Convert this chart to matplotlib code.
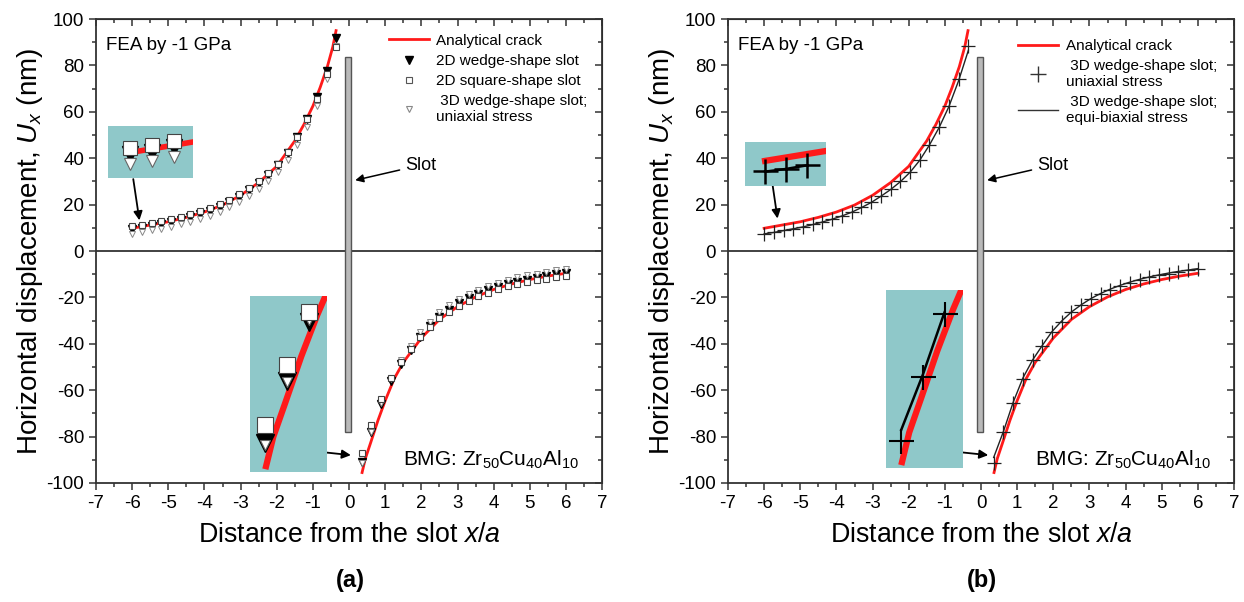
import matplotlib
matplotlib.use("Agg")
import matplotlib.pyplot as plt
from matplotlib.lines import Line2D
from matplotlib.patches import Rectangle
from matplotlib.ticker import MultipleLocator

plt.rcParams['font.family'] = ['Liberation Sans', 'DejaVu Sans']
plt.rcParams['mathtext.fontset'] = 'custom'
plt.rcParams['mathtext.rm'] = 'Liberation Sans'
plt.rcParams['mathtext.it'] = 'Liberation Sans:italic'
plt.rcParams['mathtext.bf'] = 'Liberation Sans:bold'
plt.rcParams['axes.unicode_minus'] = False

# ---- data ----
# analytical crack solution
xAnaNeg = [-6.0, -5.5, -5.0, -4.5, -4.0, -3.5, -3.0, -2.5, -2.0, -1.5, -1.25, -1.0, -0.8, -0.6, -0.45, -0.36]
uAnaNeg = [9.8, 11.2, 12.6, 14.5, 16.8, 19.8, 24.0, 29.5, 36.5, 47.5, 54.5, 62.5, 70.5, 79.5, 88.0, 95.0]
xAnaPos = [0.36, 0.45, 0.6, 0.8, 1.0, 1.25, 1.5, 2.0, 2.5, 3.0, 3.5, 4.0, 4.5, 5.0, 5.5, 6.0]
uAnaPos = [-95.5, -89.5, -82.5, -73.0, -64.5, -55.0, -48.0, -37.5, -29.5, -24.0, -19.8, -16.6, -14.2, -12.3, -10.8, -9.6]

# FEA nodes
xNeg = [-6.00, -5.73, -5.46, -5.19, -4.92, -4.65, -4.39, -4.12, -3.85, -3.58, -3.31,
        -3.04, -2.77, -2.50, -2.23, -1.96, -1.70, -1.43, -1.16, -0.89, -0.62, -0.35]
xPos = [0.35, 0.62, 0.89, 1.16, 1.43, 1.70, 1.96, 2.23, 2.50, 2.77, 3.04,
        3.31, 3.58, 3.85, 4.12, 4.39, 4.65, 4.92, 5.19, 5.46, 5.73, 6.00]

wedge2dNeg = [9.4, 10.0, 10.9, 11.7, 12.5, 13.5, 14.6, 15.8, 17.2, 18.9, 21.0,
              23.3, 26.1, 29.1, 32.6, 36.9, 42.3, 49.1, 57.0, 66.2, 77.8, 91.8]
square2dNeg = [10.7, 11.3, 12.2, 13.0, 13.8, 14.8, 15.9, 17.1, 18.5, 20.2, 22.2,
               24.5, 27.2, 30.1, 33.5, 37.6, 42.8, 49.3, 56.8, 65.5, 76.5, 88.0]
wedge3dNeg = [7.5, 8.1, 8.9, 9.7, 10.5, 11.5, 12.6, 13.8, 15.2, 16.8, 18.8,
              21.0, 23.7, 26.6, 30.0, 34.1, 39.2, 45.8, 53.5, 62.6, 74.0, 88.5]
biaxNeg = [7.4, 8.0, 8.8, 9.6, 10.4, 11.4, 12.5, 13.7, 15.1, 16.7, 18.7,
           20.9, 23.6, 26.5, 29.9, 34.0, 39.0, 45.6, 53.2, 62.2, 73.4, 86.5]

wedge2dPos = [-90.8, -78.0, -66.0, -56.0, -48.7, -42.7, -36.9, -32.3, -28.4, -25.4, -22.6,
              -20.4, -18.4, -16.8, -15.4, -14.2, -13.2, -12.3, -11.5, -10.8, -10.1, -9.5]
square2dPos = [-87.0, -74.8, -63.9, -54.8, -48.0, -42.4, -37.0, -32.8, -29.0, -26.2, -23.5,
               -21.4, -19.5, -17.9, -16.5, -15.3, -14.3, -13.4, -12.6, -11.9, -11.2, -10.6]
wedge3dPos = [-91.2, -78.2, -65.6, -55.0, -47.2, -40.8, -35.0, -30.4, -26.5, -23.4, -20.7,
              -18.5, -16.6, -15.0, -13.6, -12.4, -11.4, -10.5, -9.7, -9.0, -8.4, -7.8]
biaxPos = [-89.0, -77.8, -65.2, -54.7, -46.9, -40.6, -34.8, -30.2, -26.3, -23.2, -20.5,
           -18.3, -16.4, -14.8, -13.4, -12.2, -11.2, -10.3, -9.5, -8.8, -8.2, -7.6]

slotX = -0.12
slotW = 0.17
slotBottom = -78
slotTop = 83.5

RED = '#ff1a1a'
TEAL = '#8fc8c9'
DARK = '#333333'


def styleAxes(ax):
    ax.set_xlim(-7, 7)
    ax.set_ylim(-100, 100)
    ax.xaxis.set_major_locator(MultipleLocator(1))
    ax.xaxis.set_minor_locator(MultipleLocator(0.5))
    ax.yaxis.set_major_locator(MultipleLocator(20))
    ax.yaxis.set_minor_locator(MultipleLocator(10))
    ax.tick_params(which='both', direction='out', color=DARK, width=1.1, labelsize=13.5)
    ax.tick_params(which='major', length=5)
    ax.tick_params(which='minor', length=3)
    for s in ax.spines.values():
        s.set_color(DARK)
        s.set_linewidth(1.3)
    # top/right ticks point inward
    top = ax.secondary_xaxis('top')
    top.xaxis.set_major_locator(MultipleLocator(1))
    top.xaxis.set_minor_locator(MultipleLocator(0.5))
    top.tick_params(which='both', direction='in', color=DARK, width=1.1, labeltop=False)
    top.tick_params(which='major', length=5)
    top.tick_params(which='minor', length=3)
    right = ax.secondary_yaxis('right')
    right.yaxis.set_major_locator(MultipleLocator(20))
    right.yaxis.set_minor_locator(MultipleLocator(10))
    right.tick_params(which='both', direction='in', color=DARK, width=1.1, labelright=False)
    right.tick_params(which='major', length=5)
    right.tick_params(which='minor', length=3)
    ax.axhline(0, color=DARK, lw=1.3, zorder=1)
    ax.add_patch(Rectangle((slotX, slotBottom), slotW, slotTop - slotBottom,
                           facecolor='#b9b9b9', edgecolor='#555555', lw=1.0, zorder=2))
    ax.set_xlabel('Distance from the slot $\\it{x/a}$', fontsize=19.3, labelpad=7)
    ax.set_ylabel('Horizontal displacement, $\\it{U}_{x}$ (nm)', fontsize=20, labelpad=1)
    ax.text(-6.72, 88.5, 'FEA by -1 GPa', fontsize=13.5, va='center', ha='left')
    ax.text(1.5, -90, 'BMG: Zr$_{50}$Cu$_{40}$Al$_{10}$', fontsize=15, va='center', ha='left')
    ax.annotate('Slot', xy=(0.17, 30.5), xytext=(1.55, 37), fontsize=13, va='center',
                arrowprops=dict(arrowstyle='-|>', color='black', lw=1.1,
                                mutation_scale=12, shrinkA=2, shrinkB=0))


def insetAxes(rect):
    ins = fig.add_axes(rect)
    ins.set_facecolor(TEAL)
    ins.set_xticks([])
    ins.set_yticks([])
    for s in ins.spines.values():
        s.set_visible(False)
    return ins


def arrow(ax, start, end):
    ax.annotate('', xy=end, xytext=start,
                arrowprops=dict(arrowstyle='-|>', color='black', lw=1.3,
                                mutation_scale=13, shrinkA=0, shrinkB=0))


fig = plt.figure(figsize=(12.44, 6.02), dpi=100)
axA = fig.add_axes([0.0772, 0.1977, 0.4068, 0.7707])
axB = fig.add_axes([0.5852, 0.1977, 0.4068, 0.7707])

# ---------------- panel (a) ----------------
styleAxes(axA)
for xs, ys in [(xAnaNeg, uAnaNeg), (xAnaPos, uAnaPos)]:
    axA.plot(xs, ys, color=RED, lw=2.0, zorder=3)
for xs, w2, sq, w3 in [(xNeg, wedge2dNeg, square2dNeg, wedge3dNeg),
                       (xPos, wedge2dPos, square2dPos, wedge3dPos)]:
    axA.plot(xs, w2, 'v', color='black', ms=6, zorder=4)
    axA.plot(xs, w3, 'v', mfc='white', mec='#888888', mew=0.7, ms=4.5, zorder=5)
    axA.plot(xs, sq, 's', mfc='white', mec='#444444', mew=0.8, ms=5, zorder=6)

handlesA = [Line2D([], [], color=RED, lw=2.0),
            Line2D([], [], ls='', marker='v', color='black', ms=6),
            Line2D([], [], ls='', marker='s', mfc='white', mec='#555555', mew=0.8, ms=5),
            Line2D([], [], ls='', marker='v', mfc='white', mec='#888888', mew=0.8, ms=5)]
labelsA = ['Analytical crack', '2D wedge-shape slot', '2D square-shape slot',
           ' 3D wedge-shape slot;\nuniaxial stress']
axA.legend(handlesA, labelsA, loc='upper left', bbox_to_anchor=(0.57, 0.978), frameon=False,
           fontsize=11, handlelength=2.6, handletextpad=0.5, labelspacing=0.4,
           borderaxespad=0, borderpad=0.3)

arrow(axA, (-5.97, 31), (-5.80, 13.2))
arrow(axA, (-1.77, -85), (0.05, -88))

insA1 = insetAxes([0.0868, 0.7043, 0.0683, 0.0864])
insA1.plot(xAnaNeg, uAnaNeg, color=RED, lw=4)
insA1.plot(xNeg[:3], wedge2dNeg[:3], 'v', color='black', ms=11)
insA1.plot(xNeg[:3], wedge3dNeg[:3], 'v', mfc='white', mec='#666666', mew=0.8, ms=9)
insA1.plot(xNeg[:3], square2dNeg[:3], 's', mfc='white', mec='#444444', mew=0.8, ms=10)
insA1.set_xlim(-6.28, -5.22)
insA1.set_ylim(4.5, 15.3)

insA2 = insetAxes([0.2010, 0.2159, 0.0619, 0.2924])
insA2.plot(xAnaPos, uAnaPos, color=RED, lw=4.5)
insA2.plot(xPos[:3], wedge2dPos[:3], 'v', color='black', ms=13)
insA2.plot(xPos[:3], wedge3dPos[:3], 'v', mfc='white', mec='#666666', mew=0.8, ms=6.5)
insA2.plot(xPos[:3], square2dPos[:3], 's', mfc='white', mec='#444444', mew=0.8, ms=11)
insA2.set_xlim(0.16, 1.12)
insA2.set_ylim(-96.7, -60.7)

# ---------------- panel (b) ----------------
styleAxes(axB)
for xs, ys in [(xAnaNeg, uAnaNeg), (xAnaPos, uAnaPos)]:
    axB.plot(xs, ys, color=RED, lw=2.0, zorder=3)
for xs, bi, w3 in [(xNeg, biaxNeg, wedge3dNeg), (xPos, biaxPos, wedge3dPos)]:
    axB.plot(xs, bi, color='#222222', lw=1.0, zorder=4)
    axB.plot(xs, w3, '+', color='#222222', ms=9.5, mew=0.9, zorder=5)

handlesB = [Line2D([], [], color=RED, lw=2.0),
            Line2D([], [], ls='', marker='+', color='#333333', ms=12, mew=1.0),
            Line2D([], [], color='#333333', lw=1.0)]
labelsB = ['Analytical crack', ' 3D wedge-shape slot;\nuniaxial stress',
           ' 3D wedge-shape slot;\nequi-biaxial stress']
axB.legend(handlesB, labelsB, loc='upper left', bbox_to_anchor=(0.565, 0.967), frameon=False,
           fontsize=11, handlelength=2.6, handletextpad=0.5, labelspacing=0.38,
           borderaxespad=0, borderpad=0.3)

arrow(axB, (-5.79, 31), (-5.63, 14))
arrow(axB, (-1.64, -85), (0.20, -88))

insB1 = insetAxes([0.5989, 0.6910, 0.0651, 0.0731])
insB1.plot(xAnaNeg, uAnaNeg, color=RED, lw=4.5)
insB1.plot(xNeg[:3], biaxNeg[:3], color='black', lw=1.8)
insB1.plot(xNeg[:3], wedge3dNeg[:3], '+', color='black', ms=18, mew=1.8)
insB1.set_xlim(-6.26, -5.21)
insB1.set_ylim(4.2, 14.0)

insB2 = insetAxes([0.7122, 0.2226, 0.0619, 0.2957])
insB2.plot(xAnaPos, uAnaPos, color=RED, lw=4.5)
insB2.plot(xPos[:3], biaxPos[:3], color='black', lw=1.8)
insB2.plot(xPos[:3], wedge3dPos[:3], '+', color='black', ms=18, mew=1.5)
insB2.set_xlim(0.16, 1.12)
insB2.set_ylim(-96.7, -60.7)

fig.text(350 / 1244, 1 - 580 / 602, '(a)', fontsize=17, fontweight='bold', ha='center', va='center')
fig.text(982 / 1244, 1 - 580 / 602, '(b)', fontsize=17, fontweight='bold', ha='center', va='center')

fig.savefig('out.png', dpi=100)
